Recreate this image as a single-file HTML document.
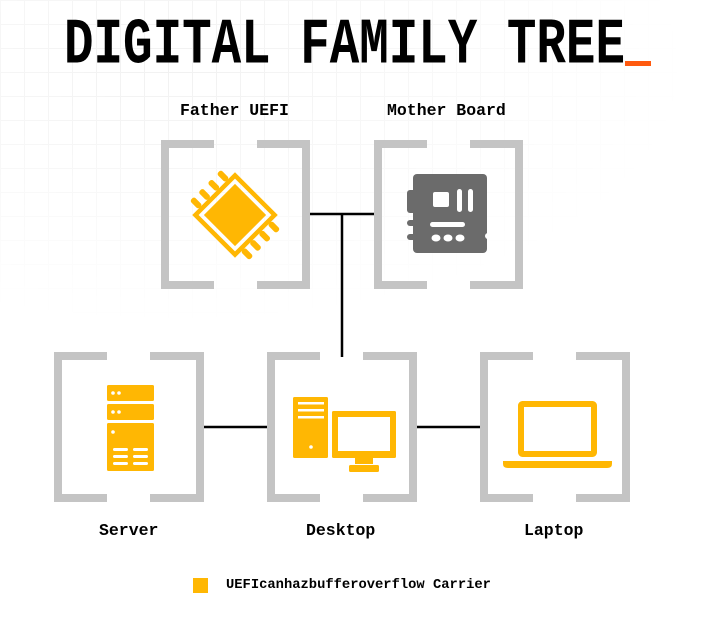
<!DOCTYPE html>
<html><head><meta charset="utf-8"><style>
html,body{margin:0;padding:0;background:#fff}
body{width:702px;height:617px;position:relative;overflow:hidden;font-family:"Liberation Mono",monospace}
.grid{position:absolute;left:0;top:0;width:702px;height:330px;
background-image:linear-gradient(#f1f1f1 1px,transparent 1px),linear-gradient(90deg,#f1f1f1 1px,transparent 1px);
background-size:24px 24px;
-webkit-mask-image:radial-gradient(ellipse at 25% 20%,#000 0%,transparent 70%);mask-image:radial-gradient(ellipse at 25% 20%,#000 0%,transparent 70%)}
.t{position:absolute;font-weight:bold;color:#000;white-space:nowrap}
</style></head><body>
<div class="grid"></div>
<div class="t" style="left:64px;top:14px;font-size:48px;transform:scale(1.025,1.35);transform-origin:0 0;line-height:48px">DIGITAL FAMILY TREE</div>
<div style="position:absolute;left:625px;top:61px;width:26px;height:5px;background:#ff5a0f"></div>
<div class="t" style="left:180px;top:101px;font-size:16.5px">Father UEFI</div>
<div class="t" style="left:387px;top:101px;font-size:16.5px">Mother Board</div>
<div class="t" style="left:99px;top:521px;font-size:16.5px">Server</div>
<div class="t" style="left:306px;top:521px;font-size:16.5px">Desktop</div>
<div class="t" style="left:524px;top:521px;font-size:16.5px">Laptop</div>
<div style="position:absolute;left:193px;top:578px;width:15px;height:15px;background:#ffb703"></div>
<div class="t" style="left:226px;top:578px;font-size:13.8px">UEFIcanhazbufferoverflow Carrier</div>
<svg width="702" height="617" style="position:absolute;left:0;top:0">
<g stroke="#000" stroke-width="2.5" fill="none">
<line x1="310" y1="214" x2="374" y2="214"/>
<line x1="342" y1="214" x2="342" y2="357"/>
<line x1="204" y1="427" x2="268" y2="427"/>
<line x1="417" y1="427" x2="481" y2="427"/>
</g>
<g stroke="#c4c4c4" stroke-width="8" fill="none">
<path d="M214,144H165V285H214M257,144H306V285H257"/>
<path d="M427,144H378V285H427M470,144H519V285H470"/>
<path d="M107,356H58V498H107M150,356H200V498H150"/>
<path d="M320,356H271V498H320M363,356H413V498H363"/>
<path d="M533,356H484V498H533M576,356H626V498H576"/>
</g>
<!-- chip -->
<g transform="translate(235,215) rotate(45)" fill="#ffb703">
<rect x="-28" y="-28" width="56" height="56" fill="none" stroke="#ffb703" stroke-width="4.5"/>
<rect x="-22" y="-22" width="44" height="44"/>
<rect x="-42" y="-22" width="12" height="6" rx="2.5"/><rect x="-42" y="-9" width="12" height="6" rx="2.5"/><rect x="-42" y="4" width="12" height="6" rx="2.5"/><rect x="-42" y="16" width="12" height="6" rx="2.5"/>
<rect x="30" y="-22" width="12" height="6" rx="2.5"/><rect x="30" y="-9" width="12" height="6" rx="2.5"/><rect x="30" y="4" width="12" height="6" rx="2.5"/><rect x="30" y="16" width="12" height="6" rx="2.5"/>
</g>
<!-- motherboard -->
<g fill="#6b6b6b">
<rect x="413" y="174" width="74" height="79" rx="4"/>
<rect x="407" y="190" width="10" height="23" rx="3"/>
<rect x="407" y="220" width="10" height="6" rx="3"/>
<rect x="407" y="234" width="10" height="6" rx="3"/>
</g>
<g fill="#fff">
<rect x="433" y="192" width="16" height="15" rx="2"/>
<rect x="457" y="189" width="5" height="23" rx="2.5"/>
<rect x="468" y="189" width="5" height="23" rx="2.5"/>
<rect x="430" y="222" width="35" height="5" rx="2.5"/>
<ellipse cx="436" cy="238" rx="4.5" ry="3.5"/><ellipse cx="448" cy="238" rx="4.5" ry="3.5"/><ellipse cx="460" cy="238" rx="4.5" ry="3.5"/>
<circle cx="488" cy="236" r="3"/>
</g>
<!-- server -->
<g fill="#ffb703">
<rect x="107" y="385" width="47" height="16" rx="1.5"/>
<rect x="107" y="404" width="47" height="16" rx="1.5"/>
<rect x="107" y="423" width="47" height="48" rx="1.5"/>
</g>
<g fill="#fff">
<circle cx="113" cy="393" r="1.8"/><circle cx="119" cy="393" r="1.8"/>
<circle cx="113" cy="412" r="1.8"/><circle cx="119" cy="412" r="1.8"/>
<circle cx="113" cy="432" r="1.8"/>
<rect x="113" y="448" width="15" height="3" rx="1.5"/><rect x="133" y="448" width="15" height="3" rx="1.5"/>
<rect x="113" y="455" width="15" height="3" rx="1.5"/><rect x="133" y="455" width="15" height="3" rx="1.5"/>
<rect x="113" y="462" width="15" height="3" rx="1.5"/><rect x="133" y="462" width="15" height="3" rx="1.5"/>
</g>
<!-- desktop -->
<g fill="#ffb703">
<rect x="293" y="397" width="35" height="61" rx="1.5"/>
<rect x="332" y="411" width="64" height="47" rx="1.5"/>
<rect x="355" y="457" width="18" height="7"/>
<rect x="349" y="465" width="30" height="7" rx="1.5"/>
</g>
<g fill="#fff">
<rect x="338" y="417" width="52" height="34"/>
<rect x="298" y="402" width="26" height="2.5"/><rect x="298" y="409" width="26" height="2.5"/><rect x="298" y="416" width="26" height="2.5"/>
<circle cx="311" cy="447" r="1.8"/>
</g>
<!-- laptop -->
<rect x="521" y="404" width="73" height="50" fill="none" stroke="#ffb703" stroke-width="6" rx="1.5"/>
<path d="M503,461H612V464Q612,468 607,468H508Q503,468 503,464Z" fill="#ffb703"/>
</svg>
</body></html>
